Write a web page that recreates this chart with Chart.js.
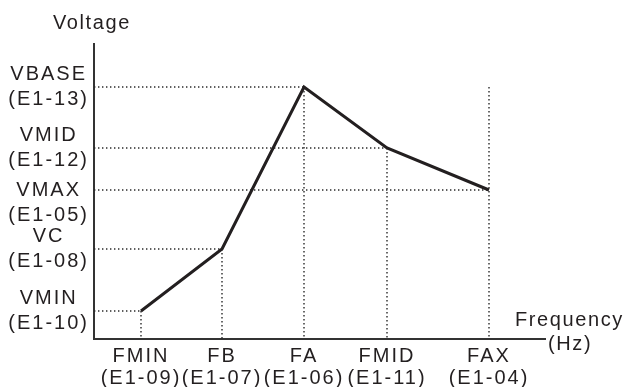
<!DOCTYPE html>
<html><head><meta charset="utf-8">
<script src="https://cdn.jsdelivr.net/npm/chart.js@4"></script>
<style>html,body{margin:0;padding:0;background:#fff}</style>
</head><body>
<div style="width:627px;height:387px"><canvas id="c" width="627" height="387"></canvas></div>
<script>
// ---- data ----
const freqLabels = [['FMIN','(E1-09)'],['FB','(E1-07)'],['FA','(E1-06)'],['FMID','(E1-11)'],['FAX','(E1-04)']];
const voltLabels = [['VMIN','(E1-10)'],['VC','(E1-08)'],['VBASE','(E1-13)'],['VMID','(E1-12)'],['','VMAX','(E1-05)']];
const freqValues = [47, 128, 210, 293, 395];
const voltValues = [28, 90, 252, 191, 149];
const xMax = 451;
const yMax = 295;
const xTitle = ['Frequency', '(Hz)'];
const yTitle = 'Voltage';

// ---- build ----
const INK = '#231f20';
const FONT = "'Liberation Sans', Arial, sans-serif";
const vTop = Math.max(...voltValues);
const guides = [];
freqValues.forEach((f, i) => {
  const v = voltValues[i];
  guides.push({ data: [{x: 0, y: v}, {x: f, y: v}] });
  const top = (i === freqValues.length - 1) ? vTop : v;
  guides.push({ data: [{x: f, y: top}, {x: f, y: 0}] });
});
const guideSets = guides.map(g => ({
  data: g.data, borderColor: '#2a2a2a', borderWidth: 1.4, borderDash: [1.4, 2.6],
  pointRadius: 0, fill: false, order: 1, clip: false
}));
const mainSet = {
  data: freqValues.map((f, i) => ({x: f, y: voltValues[i]})),
  borderColor: INK, borderWidth: 3, pointRadius: 0, fill: false, order: 0,
  tension: 0, borderJoinStyle: 'miter', clip: false
};

const spacing = {
  id: 'spacing',
  beforeLayout(c) { c.ctx.letterSpacing = '2px'; },
  beforeDraw(c) { c.ctx.letterSpacing = '2px'; }
};
const titles = {
  id: 'titles',
  afterDraw(c) {
    const ctx = c.ctx;
    ctx.save();
    ctx.letterSpacing = '1.6px';
    ctx.fillStyle = INK;
    ctx.font = '20px ' + FONT;
    ctx.textAlign = 'left';
    ctx.textBaseline = 'alphabetic';
    ctx.fillText(yTitle, 53, 29);
    ctx.fillText(xTitle[0], 515, 326);
    ctx.fillText(xTitle[1], 548, 350);
    ctx.restore();
  }
};

new Chart(document.getElementById('c'), {
  type: 'line',
  data: { datasets: [mainSet, ...guideSets] },
  options: {
    responsive: false, animation: false,
    layout: { padding: { left: 8, top: 44, right: 82, bottom: 0 } },
    plugins: { legend: { display: false }, tooltip: { enabled: false } },
    scales: {
      x: {
        type: 'linear', min: 0, max: xMax,
        grid: { display: false, drawTicks: false },
        border: { display: true, color: '#333', width: 2 },
        afterBuildTicks: s => { s.ticks = freqValues.map(v => ({ value: v })); },
        afterFit: s => { s.height = 48; },
        ticks: {
          autoSkip: false, maxRotation: 0, minRotation: 0, padding: 6,
          color: INK, font: { family: FONT, size: 20, lineHeight: 1.1 },
          callback: v => freqLabels[freqValues.indexOf(v)]
        }
      },
      y: {
        type: 'linear', min: 0, max: yMax,
        grid: { display: false, drawTicks: false },
        border: { display: true, color: '#333', width: 2 },
        afterBuildTicks: s => { s.ticks = voltValues.map(v => ({ value: v })); },
        afterFit: s => { s.width = 86; },
        ticks: {
          autoSkip: false, padding: 5, crossAlign: 'center',
          color: INK, font: { family: FONT, size: 20, lineHeight: 1.25 },
          callback: v => voltLabels[voltValues.indexOf(v)]
        }
      }
    }
  },
  plugins: [spacing, titles]
});
</script>
</body></html>
